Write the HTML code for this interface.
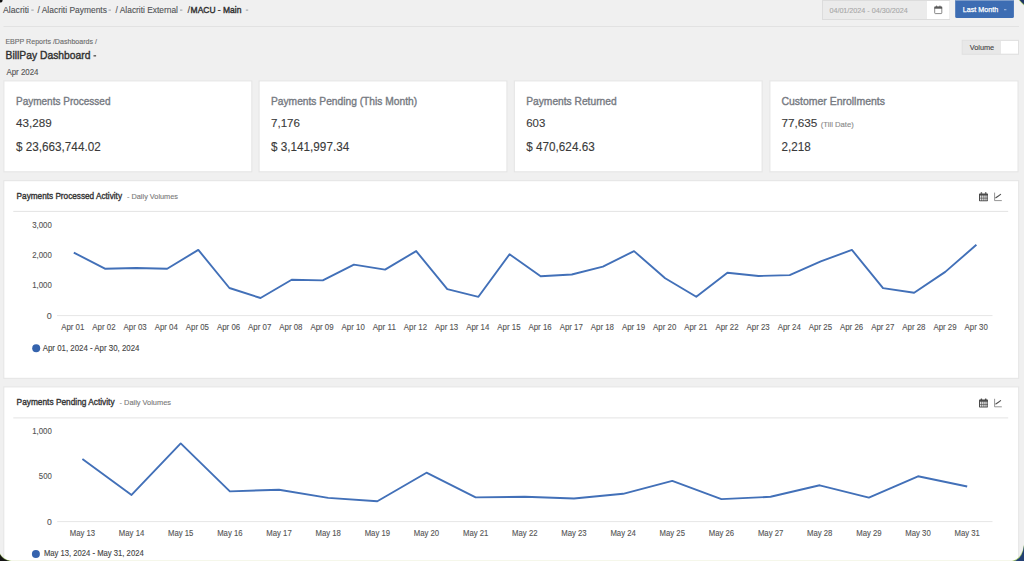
<!DOCTYPE html>
<html><head><meta charset="utf-8"><title>BillPay Dashboard</title>
<style>html,body{margin:0;padding:0;background:#f0f0f0;overflow:hidden;width:1024px;height:561px} svg{display:block} text{font-family:"Liberation Sans", sans-serif}</style>
</head><body>
<svg width="1024" height="561" viewBox="0 0 1024 561" font-family='"Liberation Sans", sans-serif'><rect x="0" y="0" width="1024" height="561" fill="#f0f0f0"/>
<text x="3.10" y="12.70" font-size="8.94" fill="#505356" stroke="#505356" stroke-width="0.12" font-weight="400" textLength="25.90" lengthAdjust="spacingAndGlyphs">Alacriti</text>
<text x="37.50" y="12.70" font-size="8.94" fill="#505356" stroke="#505356" stroke-width="0.12" font-weight="400" textLength="69.40" lengthAdjust="spacingAndGlyphs">/ Alacriti Payments</text>
<text x="115.60" y="12.70" font-size="8.94" fill="#505356" stroke="#505356" stroke-width="0.12" font-weight="400" textLength="62.40" lengthAdjust="spacingAndGlyphs">/ Alacriti External</text>
<text x="187.60" y="12.70" font-size="8.94" fill="#444444" stroke="#444444" stroke-width="0.12" font-weight="400" textLength="2.60" lengthAdjust="spacingAndGlyphs">/</text>
<text x="190.60" y="12.70" font-size="8.94" fill="#2e2e2e" stroke="#2e2e2e" stroke-width="0.38" font-weight="400" textLength="50.80" lengthAdjust="spacingAndGlyphs">MACU - Main</text>
<rect x="31.3" y="9.6" width="2.4" height="1" fill="#9aa0a6"/>
<rect x="108.5" y="9.6" width="2.4" height="1" fill="#9aa0a6"/>
<rect x="180.0" y="9.6" width="2.4" height="1" fill="#9aa0a6"/>
<rect x="245.8" y="9.6" width="2.4" height="1" fill="#9aa0a6"/>
<line x1="3.5" y1="26.5" x2="1019" y2="26.5" stroke="#e2e2e2" stroke-width="1"/>
<rect x="822.5" y="0.5" width="127" height="19" fill="#ebebeb" stroke="#dcdcdc" stroke-width="1"/>
<rect x="927" y="1" width="22.5" height="18" fill="#ffffff"/>
<text x="829.40" y="12.90" font-size="7.82" fill="#a8a8a8" stroke="#a8a8a8" stroke-width="0.12" font-weight="400" textLength="78.30" lengthAdjust="spacingAndGlyphs">04/01/2024 - 04/30/2024</text>
<g fill="none" stroke="#6a6a6a" stroke-width="0.8"><rect x="934.7" y="7" width="7.1" height="6.6" rx="0.7"/></g><rect x="934.4" y="6.6" width="7.7" height="2.1" fill="#5a5a5a"/><g fill="#5a5a5a"><rect x="936.1" y="5.6" width="1.1" height="1.4" rx="0.4"/><rect x="939.4" y="5.6" width="1.1" height="1.4" rx="0.4"/></g>
<rect x="955.2" y="-2" width="58.7" height="20" fill="#3d6db3" rx="1.5"/>
<rect x="955.2" y="0" width="58.7" height="0.8" fill="#8ea8cf"/>
<text x="962.80" y="12.00" font-size="7.40" fill="#ffffff" stroke="#ffffff" stroke-width="0.25" font-weight="400" textLength="35.40" lengthAdjust="spacingAndGlyphs">Last Month</text>
<rect x="1004" y="9.3" width="2.4" height="0.9" fill="#b9cbe6"/>
<text x="5.40" y="43.50" font-size="7.40" fill="#6b6b6b" stroke="#6b6b6b" stroke-width="0.12" font-weight="400" textLength="91.60" lengthAdjust="spacingAndGlyphs">EBPP Reports /Dashboards /</text>
<text x="5.50" y="58.60" font-size="11.03" fill="#2f2f2f" stroke="#2f2f2f" stroke-width="0.38" font-weight="400" textLength="85.00" lengthAdjust="spacingAndGlyphs">BillPay Dashboard</text>
<rect x="93.5" y="55.3" width="2.6" height="1.1" fill="#2f2f2f"/>
<text x="6.40" y="75.00" font-size="8.38" fill="#555555" stroke="#555555" stroke-width="0.12" font-weight="400" textLength="32.10" lengthAdjust="spacingAndGlyphs">Apr 2024</text>
<rect x="962.2" y="40.3" width="56.3" height="14" fill="#e8e8e8" stroke="#e0e0e0" stroke-width="1"/>
<rect x="1001" y="41" width="17" height="12.6" fill="#ffffff"/>
<text x="969.70" y="50.20" font-size="7.40" fill="#444444" stroke="#444444" stroke-width="0.12" font-weight="400" textLength="24.50" lengthAdjust="spacingAndGlyphs">Volume</text>
<rect x="3.9" y="80.9" width="247.95" height="90.9" fill="#ffffff" stroke="#e4e4e4" stroke-width="1"/>
<rect x="259.1" y="80.9" width="247.79999999999995" height="90.9" fill="#ffffff" stroke="#e4e4e4" stroke-width="1"/>
<rect x="514.3" y="80.9" width="247.80000000000007" height="90.9" fill="#ffffff" stroke="#e4e4e4" stroke-width="1"/>
<rect x="769.9" y="80.9" width="248.10000000000002" height="90.9" fill="#ffffff" stroke="#e4e4e4" stroke-width="1"/>
<text x="16.00" y="104.60" font-size="11.03" fill="#767a82" stroke="#767a82" stroke-width="0.38" font-weight="400" textLength="94.50" lengthAdjust="spacingAndGlyphs">Payments Processed</text>
<text x="16.00" y="127.10" font-size="11.59" fill="#3a3a3a" stroke="#3a3a3a" stroke-width="0.12" font-weight="400" textLength="35.70" lengthAdjust="spacingAndGlyphs">43,289</text>
<text x="16.00" y="150.60" font-size="12.57" fill="#3a3a3a" stroke="#3a3a3a" stroke-width="0.12" font-weight="400" textLength="84.70" lengthAdjust="spacingAndGlyphs">$ 23,663,744.02</text>
<text x="271.00" y="104.60" font-size="11.03" fill="#767a82" stroke="#767a82" stroke-width="0.38" font-weight="400" textLength="146.10" lengthAdjust="spacingAndGlyphs">Payments Pending (This Month)</text>
<text x="271.00" y="127.10" font-size="11.59" fill="#3a3a3a" stroke="#3a3a3a" stroke-width="0.12" font-weight="400" textLength="29.00" lengthAdjust="spacingAndGlyphs">7,176</text>
<text x="271.00" y="150.60" font-size="12.57" fill="#3a3a3a" stroke="#3a3a3a" stroke-width="0.12" font-weight="400" textLength="78.20" lengthAdjust="spacingAndGlyphs">$ 3,141,997.34</text>
<text x="526.25" y="104.60" font-size="11.03" fill="#767a82" stroke="#767a82" stroke-width="0.38" font-weight="400" textLength="90.35" lengthAdjust="spacingAndGlyphs">Payments Returned</text>
<text x="526.25" y="127.10" font-size="11.59" fill="#3a3a3a" stroke="#3a3a3a" stroke-width="0.12" font-weight="400" textLength="19.05" lengthAdjust="spacingAndGlyphs">603</text>
<text x="526.25" y="150.60" font-size="12.57" fill="#3a3a3a" stroke="#3a3a3a" stroke-width="0.12" font-weight="400" textLength="68.45" lengthAdjust="spacingAndGlyphs">$ 470,624.63</text>
<text x="781.50" y="104.60" font-size="11.03" fill="#767a82" stroke="#767a82" stroke-width="0.38" font-weight="400" textLength="103.40" lengthAdjust="spacingAndGlyphs">Customer Enrollments</text>
<text x="781.50" y="127.10" font-size="11.59" fill="#3a3a3a" stroke="#3a3a3a" stroke-width="0.12" font-weight="400" textLength="35.90" lengthAdjust="spacingAndGlyphs">77,635</text>
<text x="781.50" y="150.60" font-size="12.57" fill="#3a3a3a" stroke="#3a3a3a" stroke-width="0.12" font-weight="400" textLength="29.20" lengthAdjust="spacingAndGlyphs">2,218</text>
<text x="820.80" y="127.40" font-size="7.40" fill="#8a8a8a" stroke="#8a8a8a" stroke-width="0.12" font-weight="400" textLength="32.90" lengthAdjust="spacingAndGlyphs">(Till Date)</text>
<rect x="3.8" y="180.7" width="1014.9" height="197.60000000000002" fill="#ffffff" stroke="#e4e4e4" stroke-width="1"/>
<text x="16.60" y="198.90" font-size="9.50" fill="#333333" stroke="#333333" stroke-width="0.38" font-weight="400" textLength="105.40" lengthAdjust="spacingAndGlyphs">Payments Processed Activity</text>
<text x="127.00" y="198.90" font-size="7.26" fill="#7a7a7a" stroke="#7a7a7a" stroke-width="0.12" font-weight="400" textLength="51.00" lengthAdjust="spacingAndGlyphs">-  Daily Volumes</text>
<line x1="13.3" y1="211.4" x2="1008.2" y2="211.4" stroke="#e3e3e3" stroke-width="1"/>
<g fill="#4a4a4a"><rect x="979" y="193.40" width="9" height="7.8" rx="0.7"/><rect x="980.6" y="192.20" width="1.6" height="1.6" rx="0.5"/><rect x="984.9" y="192.20" width="1.6" height="1.6" rx="0.5"/></g><g fill="#f4f4f4"><rect x="980.1" y="195.50" width="1.3" height="2.3"/><rect x="982.2" y="195.50" width="1.3" height="2.3"/><rect x="984.3" y="195.50" width="1.3" height="2.3"/><rect x="986.4" y="195.50" width="0.9" height="2.3"/><rect x="980.1" y="198.40" width="1.3" height="2.0"/><rect x="982.2" y="198.40" width="1.3" height="2.0"/><rect x="984.3" y="198.40" width="1.3" height="2.0"/><rect x="986.4" y="198.40" width="0.9" height="2.0"/></g>
<g fill="none" stroke="#7a7a7a" stroke-width="0.8"><polyline points="994.6,192.60 994.6,200.60 1001.8,200.60"/></g><path d="M995.8,197.80 L998.4,196.00 L1000.6,194.40" fill="none" stroke="#505050" stroke-width="1.1" stroke-linecap="round"/>
<rect x="3.8" y="386.9" width="1014.9" height="175.10000000000002" fill="#ffffff" stroke="#e4e4e4" stroke-width="1"/>
<text x="16.60" y="405.20" font-size="9.50" fill="#333333" stroke="#333333" stroke-width="0.38" font-weight="400" textLength="98.00" lengthAdjust="spacingAndGlyphs">Payments Pending Activity</text>
<text x="119.50" y="405.20" font-size="7.26" fill="#7a7a7a" stroke="#7a7a7a" stroke-width="0.12" font-weight="400" textLength="51.50" lengthAdjust="spacingAndGlyphs">-  Daily Volumes</text>
<line x1="13.3" y1="417.9" x2="1008.2" y2="417.9" stroke="#e3e3e3" stroke-width="1"/>
<g fill="#4a4a4a"><rect x="979" y="399.60" width="9" height="7.8" rx="0.7"/><rect x="980.6" y="398.40" width="1.6" height="1.6" rx="0.5"/><rect x="984.9" y="398.40" width="1.6" height="1.6" rx="0.5"/></g><g fill="#f4f4f4"><rect x="980.1" y="401.70" width="1.3" height="2.3"/><rect x="982.2" y="401.70" width="1.3" height="2.3"/><rect x="984.3" y="401.70" width="1.3" height="2.3"/><rect x="986.4" y="401.70" width="0.9" height="2.3"/><rect x="980.1" y="404.60" width="1.3" height="2.0"/><rect x="982.2" y="404.60" width="1.3" height="2.0"/><rect x="984.3" y="404.60" width="1.3" height="2.0"/><rect x="986.4" y="404.60" width="0.9" height="2.0"/></g>
<g fill="none" stroke="#7a7a7a" stroke-width="0.8"><polyline points="994.6,398.80 994.6,406.80 1001.8,406.80"/></g><path d="M995.8,404.00 L998.4,402.20 L1000.6,400.60" fill="none" stroke="#505050" stroke-width="1.1" stroke-linecap="round"/>
<line x1="57" y1="315.6" x2="992.5" y2="315.6" stroke="#e6e6e6" stroke-width="1"/>
<text x="32.20" y="228.10" font-size="8.66" fill="#555555" stroke="#555555" stroke-width="0.12" font-weight="400" textLength="19.60" lengthAdjust="spacingAndGlyphs">3,000</text>
<text x="32.20" y="258.30" font-size="8.66" fill="#555555" stroke="#555555" stroke-width="0.12" font-weight="400" textLength="19.60" lengthAdjust="spacingAndGlyphs">2,000</text>
<text x="32.20" y="288.40" font-size="8.66" fill="#555555" stroke="#555555" stroke-width="0.12" font-weight="400" textLength="19.60" lengthAdjust="spacingAndGlyphs">1,000</text>
<text x="46.80" y="318.70" font-size="8.66" fill="#555555" stroke="#555555" stroke-width="0.12" font-weight="400" textLength="5.00" lengthAdjust="spacingAndGlyphs">0</text>
<polyline points="73.80,252.60 104.92,268.70 136.05,268.00 167.17,268.70 198.30,249.90 229.42,288.00 260.54,298.00 291.67,279.80 322.79,280.40 353.92,264.60 385.04,269.60 416.17,251.10 447.29,289.20 478.41,296.80 509.54,254.30 540.66,276.30 571.79,274.50 602.91,266.60 634.03,251.10 665.16,278.30 696.28,296.80 727.41,272.80 758.53,276.00 789.66,275.10 820.78,261.40 851.90,249.90 883.03,288.10 914.15,292.80 945.28,271.90 976.40,244.80" fill="none" stroke="#4270b8" stroke-width="1.9" stroke-linejoin="round"/>
<text x="61.20" y="330.40" font-size="8.94" fill="#555555" stroke="#555555" stroke-width="0.12" font-weight="400" textLength="23.20" lengthAdjust="spacingAndGlyphs">Apr 01</text>
<text x="92.35" y="330.40" font-size="8.94" fill="#555555" stroke="#555555" stroke-width="0.12" font-weight="400" textLength="23.20" lengthAdjust="spacingAndGlyphs">Apr 02</text>
<text x="123.50" y="330.40" font-size="8.94" fill="#555555" stroke="#555555" stroke-width="0.12" font-weight="400" textLength="23.20" lengthAdjust="spacingAndGlyphs">Apr 03</text>
<text x="154.66" y="330.40" font-size="8.94" fill="#555555" stroke="#555555" stroke-width="0.12" font-weight="400" textLength="23.20" lengthAdjust="spacingAndGlyphs">Apr 04</text>
<text x="185.81" y="330.40" font-size="8.94" fill="#555555" stroke="#555555" stroke-width="0.12" font-weight="400" textLength="23.20" lengthAdjust="spacingAndGlyphs">Apr 05</text>
<text x="216.96" y="330.40" font-size="8.94" fill="#555555" stroke="#555555" stroke-width="0.12" font-weight="400" textLength="23.20" lengthAdjust="spacingAndGlyphs">Apr 06</text>
<text x="248.11" y="330.40" font-size="8.94" fill="#555555" stroke="#555555" stroke-width="0.12" font-weight="400" textLength="23.20" lengthAdjust="spacingAndGlyphs">Apr 07</text>
<text x="279.26" y="330.40" font-size="8.94" fill="#555555" stroke="#555555" stroke-width="0.12" font-weight="400" textLength="23.20" lengthAdjust="spacingAndGlyphs">Apr 08</text>
<text x="310.41" y="330.40" font-size="8.94" fill="#555555" stroke="#555555" stroke-width="0.12" font-weight="400" textLength="23.20" lengthAdjust="spacingAndGlyphs">Apr 09</text>
<text x="341.57" y="330.40" font-size="8.94" fill="#555555" stroke="#555555" stroke-width="0.12" font-weight="400" textLength="23.20" lengthAdjust="spacingAndGlyphs">Apr 10</text>
<text x="372.72" y="330.40" font-size="8.94" fill="#555555" stroke="#555555" stroke-width="0.12" font-weight="400" textLength="23.20" lengthAdjust="spacingAndGlyphs">Apr 11</text>
<text x="403.87" y="330.40" font-size="8.94" fill="#555555" stroke="#555555" stroke-width="0.12" font-weight="400" textLength="23.20" lengthAdjust="spacingAndGlyphs">Apr 12</text>
<text x="435.02" y="330.40" font-size="8.94" fill="#555555" stroke="#555555" stroke-width="0.12" font-weight="400" textLength="23.20" lengthAdjust="spacingAndGlyphs">Apr 13</text>
<text x="466.17" y="330.40" font-size="8.94" fill="#555555" stroke="#555555" stroke-width="0.12" font-weight="400" textLength="23.20" lengthAdjust="spacingAndGlyphs">Apr 14</text>
<text x="497.32" y="330.40" font-size="8.94" fill="#555555" stroke="#555555" stroke-width="0.12" font-weight="400" textLength="23.20" lengthAdjust="spacingAndGlyphs">Apr 15</text>
<text x="528.48" y="330.40" font-size="8.94" fill="#555555" stroke="#555555" stroke-width="0.12" font-weight="400" textLength="23.20" lengthAdjust="spacingAndGlyphs">Apr 16</text>
<text x="559.63" y="330.40" font-size="8.94" fill="#555555" stroke="#555555" stroke-width="0.12" font-weight="400" textLength="23.20" lengthAdjust="spacingAndGlyphs">Apr 17</text>
<text x="590.78" y="330.40" font-size="8.94" fill="#555555" stroke="#555555" stroke-width="0.12" font-weight="400" textLength="23.20" lengthAdjust="spacingAndGlyphs">Apr 18</text>
<text x="621.93" y="330.40" font-size="8.94" fill="#555555" stroke="#555555" stroke-width="0.12" font-weight="400" textLength="23.20" lengthAdjust="spacingAndGlyphs">Apr 19</text>
<text x="653.08" y="330.40" font-size="8.94" fill="#555555" stroke="#555555" stroke-width="0.12" font-weight="400" textLength="23.20" lengthAdjust="spacingAndGlyphs">Apr 20</text>
<text x="684.23" y="330.40" font-size="8.94" fill="#555555" stroke="#555555" stroke-width="0.12" font-weight="400" textLength="23.20" lengthAdjust="spacingAndGlyphs">Apr 21</text>
<text x="715.39" y="330.40" font-size="8.94" fill="#555555" stroke="#555555" stroke-width="0.12" font-weight="400" textLength="23.20" lengthAdjust="spacingAndGlyphs">Apr 22</text>
<text x="746.54" y="330.40" font-size="8.94" fill="#555555" stroke="#555555" stroke-width="0.12" font-weight="400" textLength="23.20" lengthAdjust="spacingAndGlyphs">Apr 23</text>
<text x="777.69" y="330.40" font-size="8.94" fill="#555555" stroke="#555555" stroke-width="0.12" font-weight="400" textLength="23.20" lengthAdjust="spacingAndGlyphs">Apr 24</text>
<text x="808.84" y="330.40" font-size="8.94" fill="#555555" stroke="#555555" stroke-width="0.12" font-weight="400" textLength="23.20" lengthAdjust="spacingAndGlyphs">Apr 25</text>
<text x="839.99" y="330.40" font-size="8.94" fill="#555555" stroke="#555555" stroke-width="0.12" font-weight="400" textLength="23.20" lengthAdjust="spacingAndGlyphs">Apr 26</text>
<text x="871.14" y="330.40" font-size="8.94" fill="#555555" stroke="#555555" stroke-width="0.12" font-weight="400" textLength="23.20" lengthAdjust="spacingAndGlyphs">Apr 27</text>
<text x="902.30" y="330.40" font-size="8.94" fill="#555555" stroke="#555555" stroke-width="0.12" font-weight="400" textLength="23.20" lengthAdjust="spacingAndGlyphs">Apr 28</text>
<text x="933.45" y="330.40" font-size="8.94" fill="#555555" stroke="#555555" stroke-width="0.12" font-weight="400" textLength="23.20" lengthAdjust="spacingAndGlyphs">Apr 29</text>
<text x="964.60" y="330.40" font-size="8.94" fill="#555555" stroke="#555555" stroke-width="0.12" font-weight="400" textLength="23.20" lengthAdjust="spacingAndGlyphs">Apr 30</text>
<circle cx="36.2" cy="348.3" r="4" fill="#3563ad"/>
<text x="42.70" y="350.90" font-size="8.80" fill="#444444" stroke="#444444" stroke-width="0.12" font-weight="400" textLength="96.80" lengthAdjust="spacingAndGlyphs">Apr 01, 2024 - Apr 30, 2024</text>
<line x1="57.2" y1="521.6" x2="992.5" y2="521.6" stroke="#e6e6e6" stroke-width="1"/>
<text x="32.20" y="434.10" font-size="8.66" fill="#555555" stroke="#555555" stroke-width="0.12" font-weight="400" textLength="19.60" lengthAdjust="spacingAndGlyphs">1,000</text>
<text x="38.80" y="479.10" font-size="8.66" fill="#555555" stroke="#555555" stroke-width="0.12" font-weight="400" textLength="13.00" lengthAdjust="spacingAndGlyphs">500</text>
<text x="47.00" y="524.90" font-size="8.66" fill="#555555" stroke="#555555" stroke-width="0.12" font-weight="400" textLength="4.80" lengthAdjust="spacingAndGlyphs">0</text>
<polyline points="82.40,459.00 131.56,494.90 180.71,443.40 229.87,491.40 279.02,489.70 328.18,497.90 377.33,501.20 426.49,472.70 475.64,497.40 524.80,496.80 573.96,498.50 623.11,493.80 672.27,480.90 721.42,499.10 770.58,496.80 819.73,485.30 868.89,497.60 918.04,476.30 967.20,486.50" fill="none" stroke="#4270b8" stroke-width="1.9" stroke-linejoin="round"/>
<text x="69.70" y="535.80" font-size="8.66" fill="#555555" stroke="#555555" stroke-width="0.12" font-weight="400" textLength="25.40" lengthAdjust="spacingAndGlyphs">May 13</text>
<text x="118.86" y="535.80" font-size="8.66" fill="#555555" stroke="#555555" stroke-width="0.12" font-weight="400" textLength="25.40" lengthAdjust="spacingAndGlyphs">May 14</text>
<text x="168.01" y="535.80" font-size="8.66" fill="#555555" stroke="#555555" stroke-width="0.12" font-weight="400" textLength="25.40" lengthAdjust="spacingAndGlyphs">May 15</text>
<text x="217.17" y="535.80" font-size="8.66" fill="#555555" stroke="#555555" stroke-width="0.12" font-weight="400" textLength="25.40" lengthAdjust="spacingAndGlyphs">May 16</text>
<text x="266.32" y="535.80" font-size="8.66" fill="#555555" stroke="#555555" stroke-width="0.12" font-weight="400" textLength="25.40" lengthAdjust="spacingAndGlyphs">May 17</text>
<text x="315.48" y="535.80" font-size="8.66" fill="#555555" stroke="#555555" stroke-width="0.12" font-weight="400" textLength="25.40" lengthAdjust="spacingAndGlyphs">May 18</text>
<text x="364.63" y="535.80" font-size="8.66" fill="#555555" stroke="#555555" stroke-width="0.12" font-weight="400" textLength="25.40" lengthAdjust="spacingAndGlyphs">May 19</text>
<text x="413.79" y="535.80" font-size="8.66" fill="#555555" stroke="#555555" stroke-width="0.12" font-weight="400" textLength="25.40" lengthAdjust="spacingAndGlyphs">May 20</text>
<text x="462.94" y="535.80" font-size="8.66" fill="#555555" stroke="#555555" stroke-width="0.12" font-weight="400" textLength="25.40" lengthAdjust="spacingAndGlyphs">May 21</text>
<text x="512.10" y="535.80" font-size="8.66" fill="#555555" stroke="#555555" stroke-width="0.12" font-weight="400" textLength="25.40" lengthAdjust="spacingAndGlyphs">May 22</text>
<text x="561.26" y="535.80" font-size="8.66" fill="#555555" stroke="#555555" stroke-width="0.12" font-weight="400" textLength="25.40" lengthAdjust="spacingAndGlyphs">May 23</text>
<text x="610.41" y="535.80" font-size="8.66" fill="#555555" stroke="#555555" stroke-width="0.12" font-weight="400" textLength="25.40" lengthAdjust="spacingAndGlyphs">May 24</text>
<text x="659.57" y="535.80" font-size="8.66" fill="#555555" stroke="#555555" stroke-width="0.12" font-weight="400" textLength="25.40" lengthAdjust="spacingAndGlyphs">May 25</text>
<text x="708.72" y="535.80" font-size="8.66" fill="#555555" stroke="#555555" stroke-width="0.12" font-weight="400" textLength="25.40" lengthAdjust="spacingAndGlyphs">May 26</text>
<text x="757.88" y="535.80" font-size="8.66" fill="#555555" stroke="#555555" stroke-width="0.12" font-weight="400" textLength="25.40" lengthAdjust="spacingAndGlyphs">May 27</text>
<text x="807.03" y="535.80" font-size="8.66" fill="#555555" stroke="#555555" stroke-width="0.12" font-weight="400" textLength="25.40" lengthAdjust="spacingAndGlyphs">May 28</text>
<text x="856.19" y="535.80" font-size="8.66" fill="#555555" stroke="#555555" stroke-width="0.12" font-weight="400" textLength="25.40" lengthAdjust="spacingAndGlyphs">May 29</text>
<text x="905.34" y="535.80" font-size="8.66" fill="#555555" stroke="#555555" stroke-width="0.12" font-weight="400" textLength="25.40" lengthAdjust="spacingAndGlyphs">May 30</text>
<text x="954.50" y="535.80" font-size="8.66" fill="#555555" stroke="#555555" stroke-width="0.12" font-weight="400" textLength="25.40" lengthAdjust="spacingAndGlyphs">May 31</text>
<circle cx="35.9" cy="554" r="4" fill="#3563ad"/>
<text x="43.90" y="556.10" font-size="8.38" fill="#444444" stroke="#444444" stroke-width="0.12" font-weight="400" textLength="99.80" lengthAdjust="spacingAndGlyphs">May 13, 2024 - May 31, 2024</text>
<circle cx="0" cy="0" r="2.6" fill="#111"/>
<path d="M1018.8,0 L1024,0 L1024,5.4 Q1021.2,3 1018.8,0Z" fill="#a8cc6a"/>
<path d="M1019.6,0 L1024,0 L1024,4.6 Q1021.6,2.4 1019.6,0Z" fill="#1e3566"/>
<rect x="0" y="560" width="1024" height="1" fill="#f5f7ea"/>
<path d="M0,553.5 Q3,559.5 11.5,561 L0,561Z" fill="#9fc46a"/>
<path d="M0,554.5 Q3.5,560 10,561 L0,561Z" fill="#151515"/>
<path d="M1024,544.5 Q1022,559 1012,561 L1024,561Z" fill="#a9cf6e"/>
<path d="M1024,545.5 Q1022.5,559.5 1013.5,561 L1024,561Z" fill="#223f73"/></svg>
</body></html>
